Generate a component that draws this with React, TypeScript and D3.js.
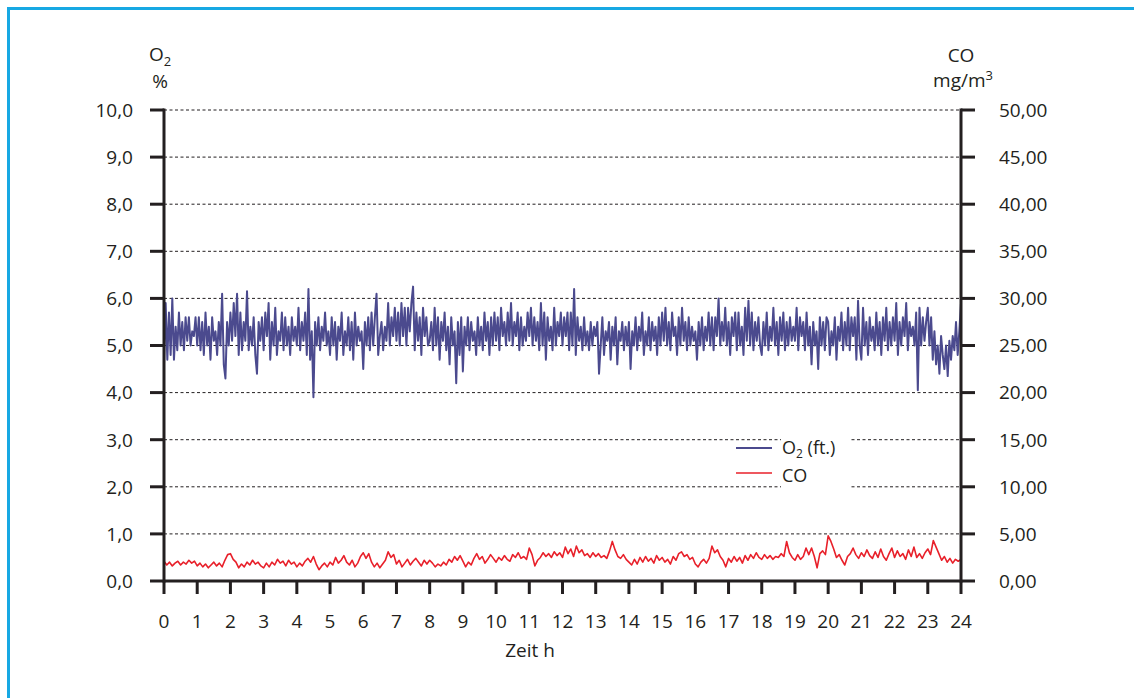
import * as d3 from 'd3';

// O2 (%), 20 readings per hour, 0..24 h
const o2Values = [
  4.6, 5.9, 4.7, 5.7, 4.8, 6.0, 4.7, 5.4, 4.9, 5.7, 5.0, 5.5, 4.9, 5.6, 5.1, 5.6, 5.0, 5.3, 5.2, 5.6,
  5.0, 5.6, 4.9, 5.5, 4.8, 5.7, 5.0, 5.4, 4.7, 5.6, 5.1, 5.3, 4.8, 5.5, 5.0, 6.1, 4.6, 4.3, 5.5, 5.0,
  5.7, 5.1, 5.9, 5.2, 6.1, 4.8, 5.7, 4.9, 5.5, 5.1, 6.15, 4.9, 5.4, 5.0, 5.6, 4.8, 4.4, 5.5, 5.1, 5.6,
  4.9, 5.7, 5.2, 5.9, 4.7, 5.5, 5.0, 5.8, 4.8, 5.3, 5.1, 5.7, 4.9, 5.6, 5.0, 5.4, 4.8, 5.6, 5.1, 5.4,
  5.0, 5.8, 4.9, 5.5, 5.1, 5.7, 4.8, 6.2, 4.7, 5.3, 3.9, 5.5, 5.0, 5.6, 4.9, 5.4, 5.1, 5.7, 5.0, 5.3,
  4.8, 5.6, 5.0, 5.5, 4.7, 5.4, 5.1, 5.7, 4.8, 5.3, 5.0, 5.6, 4.9, 5.5, 4.7, 5.7, 5.0, 5.4, 5.1, 5.3,
  4.5, 5.5, 5.0, 5.6, 4.9, 5.7, 5.0, 5.6, 6.1, 4.8, 5.2, 5.5, 4.9, 5.4, 5.1, 5.9, 5.0, 5.6, 5.2, 5.8,
  5.1, 5.7, 5.0, 5.9, 5.2, 5.8, 5.0, 5.8, 5.3, 5.9, 6.25, 4.9, 5.7, 5.1, 5.6, 4.8, 5.8, 5.2, 5.6, 5.0,
  5.1, 5.5, 4.9, 5.8, 5.0, 5.6, 4.7, 5.5, 5.1, 5.7, 4.9, 5.4, 4.6, 5.6, 5.0, 5.3, 4.2, 5.5, 4.8, 5.6,
  4.45, 5.4, 5.0, 5.6, 4.9, 5.5, 5.1, 5.3, 4.8, 5.6, 5.0, 5.4, 4.9, 5.7, 5.1, 5.5, 4.8, 5.6, 5.0, 5.7,
  5.1, 5.6, 4.9, 5.8, 5.2, 5.5, 5.0, 5.7, 5.1, 5.9, 5.0, 5.5, 5.2, 5.7, 4.9, 5.6, 5.0, 5.4, 5.1, 5.7,
  5.2, 5.8, 5.0, 5.6, 5.1, 5.5, 4.9, 5.9, 5.0, 5.7, 4.7, 5.6, 5.1, 5.4, 4.9, 5.8, 5.0, 5.5, 5.2, 5.7,
  5.0, 5.6, 5.2, 5.7, 4.9, 5.7, 5.0, 6.2, 4.8, 5.6, 5.1, 5.4, 4.9, 5.6, 5.0, 5.3, 4.9, 5.5, 5.0, 5.4,
  5.2, 5.5, 4.4, 5.0, 5.6, 4.8, 5.3, 5.1, 5.5, 4.7, 5.4, 5.0, 5.6, 4.6, 5.3, 5.1, 5.5, 4.9, 5.4, 5.0,
  5.5, 4.5, 5.3, 5.0, 5.6, 4.9, 5.4, 5.1, 5.7, 4.8, 5.3, 5.0, 5.6, 4.9, 5.5, 5.1, 5.4, 4.8, 5.6, 5.0,
  5.7, 5.1, 5.8, 5.0, 5.5, 4.9, 5.7, 5.2, 5.4, 4.8, 5.6, 5.0, 5.8, 5.1, 5.5, 4.9, 5.6, 5.0, 5.4, 5.1,
  5.3, 4.7, 5.5, 5.0, 5.6, 4.9, 5.4, 5.1, 5.7, 5.0, 5.6, 4.9, 5.6, 5.2, 6.0, 5.0, 5.5, 5.1, 5.8, 5.0,
  5.5, 4.8, 5.6, 5.2, 5.7, 4.9, 5.7, 5.0, 5.4, 4.8, 5.8, 5.1, 5.95, 5.0, 5.7, 4.9, 5.5, 5.1, 5.6, 5.0,
  4.8, 5.5, 5.0, 5.7, 4.9, 5.4, 5.1, 5.8, 5.0, 5.5, 4.8, 5.6, 5.1, 5.7, 4.9, 5.5, 5.0, 5.6, 5.1, 5.4,
  5.1, 5.8, 4.9, 5.6, 5.2, 5.5, 4.9, 5.7, 5.0, 5.4, 4.6, 5.5, 5.0, 5.3, 4.5, 5.6, 5.0, 5.5, 4.9, 5.6,
  5.5, 4.8, 5.3, 5.0, 5.6, 4.7, 5.4, 5.1, 5.7, 4.9, 5.5, 5.0, 5.8, 4.9, 5.6, 5.2, 5.6, 4.7, 5.95, 5.0,
  4.7, 5.8, 5.0, 5.5, 4.8, 5.6, 5.1, 5.4, 4.9, 5.7, 5.0, 5.5, 4.8, 5.6, 5.1, 5.8, 4.9, 5.5, 5.0, 5.6,
  5.1, 5.9, 4.8, 5.5, 5.0, 5.6, 5.2, 5.9, 4.9, 5.5, 5.2, 5.4, 5.0, 5.7, 4.05, 5.8, 5.0, 5.6, 5.1, 5.5,
  5.8, 5.0, 5.6, 4.7, 5.3, 4.6, 5.0, 4.4, 5.2, 4.8, 4.5, 5.0, 4.35, 5.1, 4.7, 5.2, 4.9, 5.5, 4.8, 5.3,
  5.9,
];

// CO (mg/m³), 12 readings per hour, 0..24 h
const coValues = [
  2.1, 1.7, 2.0, 1.6, 1.9, 2.1, 1.7, 2.0, 1.8, 2.2, 1.9, 2.1,
  1.6, 1.9, 1.5, 1.8, 1.4, 1.7, 2.0, 1.6, 1.9, 1.5, 2.2, 2.8,
  2.9, 2.3, 2.0, 1.4, 1.8, 1.5, 2.0, 1.7, 2.2, 1.8, 2.0, 1.6,
  1.4, 1.9, 1.5, 2.0, 1.7, 2.3, 1.9, 2.1, 1.6, 2.2, 1.8, 2.0,
  1.5, 1.9, 1.6, 2.1, 2.4, 2.0, 2.6, 1.8, 1.2, 1.6, 1.9, 1.5,
  2.0, 1.7, 2.5, 1.9, 2.2, 2.7, 2.0, 1.7, 2.2, 1.5, 1.9, 2.6,
  3.0, 2.4, 2.9, 2.0, 1.5, 1.9, 1.4, 1.8, 2.2, 3.1, 2.5, 2.8,
  1.8, 2.2, 1.5, 1.9, 2.3, 1.7, 2.1, 2.4, 2.0, 1.6, 2.2, 1.8,
  2.2, 1.9, 1.5, 1.8, 1.6, 2.0, 1.7, 2.3, 2.0, 2.6, 2.2, 2.7,
  2.1, 1.5, 2.0, 1.7, 2.4, 2.9, 2.3, 2.6, 1.9, 2.3, 2.8, 2.4,
  2.0, 2.5, 2.2, 2.7, 2.3, 2.1, 2.8, 2.5, 3.0, 2.4, 2.6, 2.3,
  3.5, 2.8, 1.6, 2.2, 2.5, 3.0, 2.6, 2.9, 2.5, 3.1, 2.7, 3.0,
  2.5, 3.6, 2.9, 3.4, 2.6, 3.7, 3.0, 3.3, 2.7, 2.9, 2.5, 3.0,
  2.6, 2.9, 2.5, 2.7, 2.4, 3.2, 4.2, 3.3, 2.6, 2.4, 2.8, 2.3,
  2.0, 1.7, 2.3, 1.8, 2.5, 2.0, 2.6, 2.1, 2.4, 1.9, 2.7, 2.2,
  2.5, 2.0, 2.3, 1.8, 2.6, 2.2, 2.9, 3.1, 2.6, 2.8, 2.3, 2.5,
  1.8, 1.5, 2.0, 2.3, 1.9, 2.4, 3.7, 3.0, 3.3, 2.6, 2.2, 1.5,
  2.4, 2.0, 2.6, 2.1, 2.5, 1.9, 2.7, 2.2, 2.8, 2.4, 3.0, 2.5,
  2.3, 2.8, 2.4, 2.7, 2.3, 2.6, 2.5, 2.9, 2.6, 4.2, 3.0, 2.5,
  2.2, 2.8, 2.3, 2.6, 3.5, 2.8, 3.5, 2.6, 1.4, 2.9, 3.2, 2.8,
  4.8, 4.2, 3.4, 2.5, 2.8, 2.2, 1.7, 2.6, 2.9, 3.5, 2.8, 2.4,
  3.0, 2.6, 3.3, 2.7, 2.4, 3.1, 2.5, 3.4, 2.6, 2.2, 2.9, 3.5,
  2.5, 3.2, 2.6, 2.9, 2.3, 3.3, 2.6, 3.6, 2.5, 2.9, 2.4, 3.0,
  3.4, 2.8, 4.3, 3.6, 2.9, 2.2, 2.6, 2.0, 2.4, 1.9, 2.3, 2.1,
  2.3,
];

const hourTicks = d3.range(0, 25);
const o2Ticks = d3.range(0, 11);
const coTicks = d3.range(0, 55, 5);

const W = 1134;
const H = 698;
const FONT = "'Open Sans', 'DejaVu Sans', sans-serif";
const FS = 19;
const INK = '#231f20';
const O2_COLOR = '#4b4a8e';
const CO_COLOR = '#e8202a';

export default function App() {
  const x = d3.scaleLinear().domain([0, 24]).range([164, 961]);
  const yL = d3.scaleLinear().domain([0, 10]).range([581, 110]);
  const yR = d3.scaleLinear().domain([0, 50]).range([581, 110]);

  const stepO2 = 24 / (o2Values.length - 1);
  const stepCO = 24 / (coValues.length - 1);
  const o2Line = d3.line<number>().x((_, i) => x(i * stepO2)).y(d => yL(d));
  const coLine = d3.line<number>().x((_, i) => x(i * stepCO)).y(d => yR(d));

  const fmt1 = (v: number) => v.toFixed(1).replace('.', ',');
  const fmt2 = (v: number) => v.toFixed(2).replace('.', ',');

  return (
    <svg width={W} height={H} style={{ position: 'absolute', left: 0, top: 0, background: '#fff' }} fontFamily={FONT}>
      <rect x={8.5} y={8.5} width={W + 20} height={H + 20} fill="none" stroke="#17a8e3" strokeWidth={3} />

      {/* gridlines */}
      {o2Ticks.slice(1).map(t => (
        <line key={t} x1={x(0)} x2={x(24)} y1={yL(t)} y2={yL(t)} stroke={INK} strokeWidth={1} strokeDasharray="3,2.5" />
      ))}

      {/* data */}
      <path d={coLine(coValues) ?? ''} fill="none" stroke={CO_COLOR} strokeWidth={1.6} strokeLinejoin="round" />
      <path d={o2Line(o2Values) ?? ''} fill="none" stroke={O2_COLOR} strokeWidth={2} strokeLinejoin="round" />

      {/* axes */}
      <line x1={x(0)} x2={x(0)} y1={yL(10) - 1.5} y2={yL(0) + 1.5} stroke={INK} strokeWidth={3} />
      <line x1={x(24)} x2={x(24)} y1={yL(10) - 1.5} y2={yL(0) + 1.5} stroke={INK} strokeWidth={3} />
      <line x1={x(0)} x2={x(24)} y1={yL(0)} y2={yL(0)} stroke={INK} strokeWidth={3} />

      {o2Ticks.map(t => (
        <g key={'l' + t}>
          <line x1={x(0) - 14} x2={x(0)} y1={yL(t)} y2={yL(t)} stroke={INK} strokeWidth={3} />
          <text x={133} y={yL(t)} dy="0.36em" textAnchor="end" fontSize={FS} fill={INK}>{fmt1(t)}</text>
        </g>
      ))}
      {coTicks.map(t => (
        <g key={'r' + t}>
          <line x1={x(24)} x2={x(24) + 14} y1={yR(t)} y2={yR(t)} stroke={INK} strokeWidth={3} />
          <text x={999} y={yR(t)} dy="0.36em" textAnchor="start" fontSize={FS} fill={INK}>{fmt2(t)}</text>
        </g>
      ))}
      {hourTicks.map(t => (
        <g key={'x' + t}>
          <line x1={x(t)} x2={x(t)} y1={yL(0)} y2={yL(0) + 13} stroke={INK} strokeWidth={3} />
          <text x={x(t)} y={628} textAnchor="middle" fontSize={FS} fill={INK}>{t}</text>
        </g>
      ))}

      {/* axis titles */}
      <text x={160} y={61} textAnchor="middle" fontSize={FS} fill={INK}>
        O<tspan fontSize={13} dy={5}>2</tspan>
      </text>
      <text x={160} y={88} textAnchor="middle" fontSize={FS} fill={INK}>%</text>
      <text x={961} y={62} textAnchor="middle" fontSize={FS} fill={INK}>CO</text>
      <text x={963} y={87} textAnchor="middle" fontSize={FS} fill={INK}>
        mg/m<tspan fontSize={13} dy={-7}>3</tspan>
      </text>
      <text x={530} y={657} textAnchor="middle" fontSize={FS} fill={INK}>Zeit h</text>

      {/* legend */}
      <rect x={781} y={432} width={70} height={62} fill="#fff" />
      <line x1={736} x2={772} y1={448} y2={448} stroke={O2_COLOR} strokeWidth={1.8} />
      <text x={782} y={454} fontSize={18} fill={INK}>
        O<tspan fontSize={12} dy={4}>2</tspan><tspan dy={-4}> (ft.)</tspan>
      </text>
      <line x1={736} x2={772} y1={473} y2={473} stroke={CO_COLOR} strokeWidth={1.6} />
      <text x={782} y={482} fontSize={18} fill={INK}>CO</text>
    </svg>
  );
}
